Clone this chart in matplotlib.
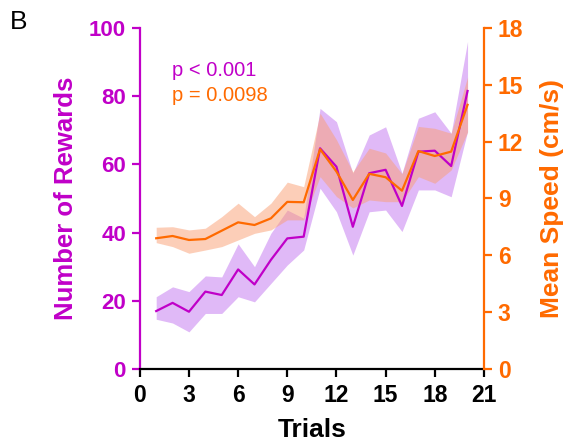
import matplotlib
matplotlib.use("Agg")
import matplotlib.pyplot as plt
import numpy as np

plt.rcParams['font.family'] = ['Liberation Sans', 'DejaVu Sans']

trials = list(range(1, 21))
rewards_mean = [17.0, 19.4, 16.8, 22.7, 21.7, 29.2, 24.8, 32.0, 38.3, 38.8,
                64.7, 59.3, 41.7, 57.4, 58.4, 47.8, 63.7, 64.0, 59.5, 81.5]
rewards_upper = [21.2, 24.1, 22.7, 27.3, 27.0, 36.7, 30.0, 39.8, 46.6, 44.2,
                 76.4, 72.5, 57.4, 68.6, 71.0, 57.4, 73.5, 75.4, 69.1, 96.0]
rewards_lower = [14.6, 13.5, 10.9, 16.3, 16.3, 21.2, 19.7, 25.1, 30.5, 34.9,
                 53.0, 46.1, 33.4, 46.1, 46.6, 40.3, 52.5, 52.5, 50.5, 69.6]
speed_mean = [6.90, 7.02, 6.81, 6.86, 7.30, 7.74, 7.60, 7.95, 8.82, 8.80,
              11.6, 10.42, 8.92, 10.3, 10.12, 9.41, 11.5, 11.24, 11.47, 13.94]
speed_upper = [7.48, 7.51, 7.34, 7.43, 8.04, 8.75, 8.04, 8.75, 9.86, 9.62,
               13.5, 12.1, 10.4, 11.65, 11.4, 10.3, 12.8, 12.7, 12.44, 15.4]
speed_lower = [6.67, 6.46, 6.11, 6.28, 6.46, 6.81, 7.16, 7.34, 7.87, 7.87,
               10.15, 9.1, 8.5, 8.92, 8.83, 8.83, 10.15, 9.8, 10.5, 12.5]
x_ticks = [0, 3, 6, 9, 12, 15, 18, 21]
left_ticks = [0, 20, 40, 60, 80, 100]
right_ticks = [0, 3, 6, 9, 12, 15, 18]

MAG = '#C000C8'
ORA = '#FF6A00'

fig = plt.figure(figsize=(5.66, 4.42), dpi=100)
ax = fig.add_axes([0.247, 0.165, 0.608, 0.772])
ax2 = ax.twinx()

ax.fill_between(trials, rewards_lower, rewards_upper, color='#E0B9F7', lw=0, zorder=1)
ax2.fill_between(trials, speed_lower, speed_upper, color=(0.98, 0.62, 0.45), alpha=0.5, lw=0, zorder=1)
ax2.plot(trials, rewards_mean, color=MAG, lw=1.6, zorder=2, transform=ax.transData)
ax2.plot(trials, speed_mean, color=ORA, lw=1.6, zorder=3)

ax.set_xlim(0, 21)
ax.set_ylim(0, 100)
ax2.set_ylim(0, 18)
ax.set_xticks(x_ticks)
ax.set_yticks(left_ticks)
ax2.set_yticks(right_ticks)

for a in (ax, ax2):
    a.spines['top'].set_visible(False)
    a.patch.set_visible(False)
ax.spines['right'].set_visible(False)
ax2.spines['left'].set_visible(False)
ax2.spines['bottom'].set_visible(False)
ax.spines['left'].set_color(MAG)
ax.spines['bottom'].set_color('black')
ax2.spines['right'].set_color(ORA)
for s in ('left', 'bottom'):
    ax.spines[s].set_linewidth(1.6)
ax2.spines['right'].set_linewidth(1.6)

ax.tick_params(axis='x', colors='black', width=1.6, length=6, labelsize=16.5, pad=5)
ax.tick_params(axis='y', colors=MAG, width=1.6, length=6, labelsize=16, pad=4)
ax2.tick_params(axis='y', colors=ORA, width=1.6, length=6, labelsize=16.5, pad=4)
for lab in ax.get_xticklabels() + ax.get_yticklabels() + ax2.get_yticklabels():
    lab.set_fontweight('bold')

ax.set_xlabel('Trials', fontsize=19, fontweight='bold', labelpad=8)
ax.set_ylabel('Number of Rewards', fontsize=18.5, fontweight='bold', color=MAG, labelpad=8)
ax2.set_ylabel('Mean Speed (cm/s)', fontsize=19, fontweight='bold', color=ORA, labelpad=12)

ax.text(1.95, 87.5, 'p < 0.001', color=MAG, fontsize=14.5, va='center')
ax.text(1.95, 80.2, 'p = 0.0098', color=ORA, fontsize=14.5, va='center')
fig.text(0.018, 1 - 10 / 442, 'B', fontsize=19, va='top')

fig.savefig('out.png', dpi=100)
